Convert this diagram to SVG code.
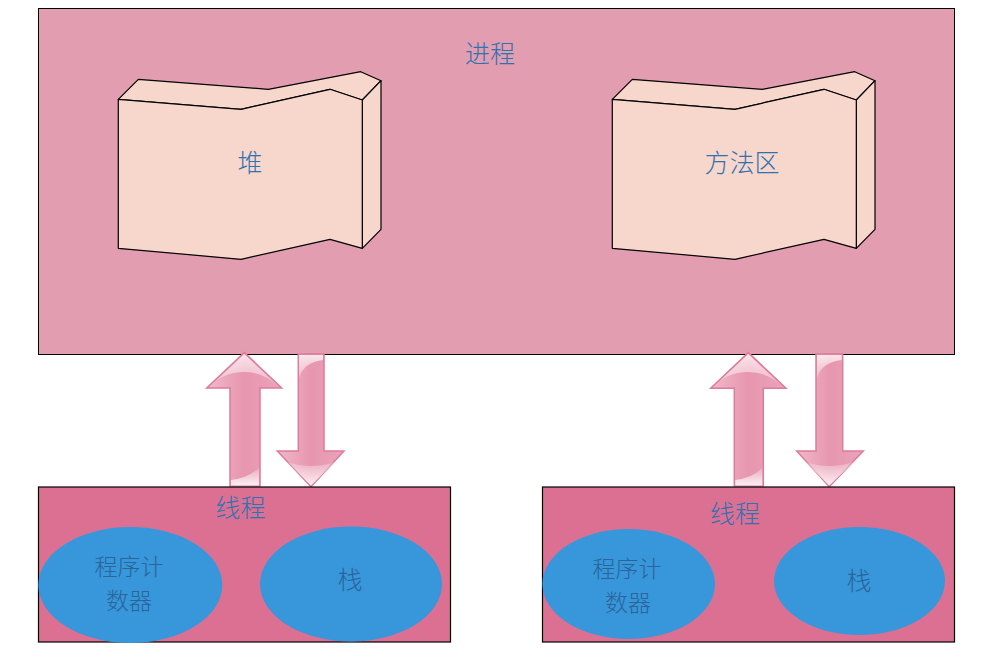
<svg xmlns="http://www.w3.org/2000/svg" width="988" height="659" viewBox="0 0 988 659">
<defs>
<linearGradient id="shaft" x1="0" y1="0" x2="1" y2="0">
<stop offset="0" stop-color="#EFB9C9"/>
<stop offset="0.5" stop-color="#E796AF"/>
<stop offset="1" stop-color="#E9A4B9"/>
</linearGradient>
<linearGradient id="gloss" x1="0" y1="0" x2="0" y2="1">
<stop offset="0" stop-color="#FFFFFF" stop-opacity="0.75"/>
<stop offset="1" stop-color="#FFFFFF" stop-opacity="0.25"/>
</linearGradient>
<linearGradient id="glossUp" x1="0" y1="1" x2="0" y2="0">
<stop offset="0" stop-color="#FFFFFF" stop-opacity="0.85"/>
<stop offset="1" stop-color="#FFFFFF" stop-opacity="0.2"/>
</linearGradient>
</defs>
<style>
.proc{fill:#E39DB0;stroke:#000;stroke-width:1}
.face{fill:#F7D7CC;stroke:#000;stroke-width:1.2;stroke-linejoin:round}
.thread{fill:#DC7093;stroke:#000;stroke-width:1.2}
.ell{fill:#3797DA}
.t{font-family:"Noto Sans CJK SC","Noto Sans",sans-serif;font-size:25px;fill:#2F72B0;text-anchor:middle;dominant-baseline:central;font-weight:300}
.ti{fill:#2A6499}
.two{font-size:23px}
.arr{fill:url(#shaft);stroke:#DE7A9C;stroke-width:1.5;stroke-linejoin:miter}
.gl{fill:url(#gloss)}
.glu{fill:url(#glossUp)}
</style>
<rect width="988" height="659" fill="#FFFFFF"/>
<g id="process">
<rect class="proc" x="38.5" y="8.5" width="916" height="346"/>
<text class="t" x="490" y="52">进程</text>
</g>
<g id="heap">
<path class="face" d="M118.3,99.3 L138.3,79.3 L268.3,89.3 L360.7,71.7 L381,80.7 L362.3,100 L330,89.3 L241,109.3 Z"/>
<path class="face" d="M362.3,100 L381,80.7 L381,229.3 L362.3,248.3 Z"/>
<path class="face" d="M118.3,99.3 L241,109.3 L330,89.3 L362.3,100 L362.3,248.3 L330,239.3 L241,259.3 L118.3,248.3 Z"/>
<text class="t" x="250" y="161">堆</text>
</g>
<g id="method-area">
<path class="face" d="M612.3,99.3 L632.3,79.3 L762.3,89.3 L854.7,71.7 L875,80.7 L856.3,100 L824,89.3 L735,109.3 Z"/>
<path class="face" d="M856.3,100 L875,80.7 L875,229.3 L856.3,248.3 Z"/>
<path class="face" d="M612.3,99.3 L735,109.3 L824,89.3 L856.3,100 L856.3,248.3 L824,239.3 L735,259.3 L612.3,248.3 Z"/>
<text class="t" x="742" y="161">方法区</text>
</g>
<g id="connectors">
<g id="arrow-up-left">
<path class="arr" d="M244.3,352.5 L281.7,388 L260,388 L260,486 L230,486 L230,388 L206.7,388 Z"/>
<path class="gl" d="M244.3,354 L278,386 Q262,371 242,372 Q222,373 210.5,386 Z"/>
<path class="glu" d="M231,485.5 L231,480 Q248,478 259,468 L259,485.5 Z"/>
</g>
<g id="arrow-down-left">
<path class="arr" d="M298.3,354 L324,354 L324,451 L344,451 L311,486.7 L277.3,451 L298.3,451 Z"/>
<path class="gl" d="M299,355 L323,355 L323,360 Q304,362 299,378 Z"/>
<path class="glu" d="M287,462 Q311,470 335,462 L311,485.5 Z"/>
</g>
<g id="arrow-up-right">
<path class="arr" d="M748.3,352.5 L786,388.3 L763.3,388.3 L763.3,486 L734.3,486 L734.3,388.3 L710.7,388.3 Z"/>
<path class="gl" d="M748.3,354 L782,386 Q766,371 746,372 Q726,373 714.5,386 Z"/>
<path class="glu" d="M735.3,485.5 L735.3,480 Q752,478 762.3,468 L762.3,485.5 Z"/>
</g>
<g id="arrow-down-right">
<path class="arr" d="M816,354 L842.7,354 L842.7,451 L863.3,451 L829.3,486.7 L796.7,451 L816,451 Z"/>
<path class="gl" d="M817,355 L841.7,355 L841.7,360 Q822,362 817,378 Z"/>
<path class="glu" d="M805,462 Q829.3,470 854,462 L829.3,485.5 Z"/>
</g>
</g>
<g id="thread-left">
<rect class="thread" x="38.5" y="487" width="412" height="155"/>
<text class="t" x="240.5" y="506">线程</text>
<g id="pc-left">
<ellipse class="ell" cx="130.3" cy="585" rx="92" ry="58"/>
<text class="t ti two" x="129" y="565">程序计</text>
<text class="t ti two" x="129" y="599">数器</text>
</g>
<g id="stack-left">
<ellipse class="ell" cx="351" cy="584" rx="91" ry="57.5"/>
<text class="t ti" x="350" y="578">栈</text>
</g>
</g>
<g id="thread-right">
<rect class="thread" x="542.5" y="487" width="412" height="155"/>
<text class="t" x="735" y="512">线程</text>
<g id="pc-right">
<ellipse class="ell" cx="628.7" cy="584" rx="86.3" ry="55"/>
<text class="t ti two" x="627" y="567">程序计</text>
<text class="t ti two" x="628" y="601">数器</text>
</g>
<g id="stack-right">
<ellipse class="ell" cx="859.5" cy="581" rx="85.5" ry="54"/>
<text class="t ti" x="859" y="579">栈</text>
</g>
</g>
</svg>
